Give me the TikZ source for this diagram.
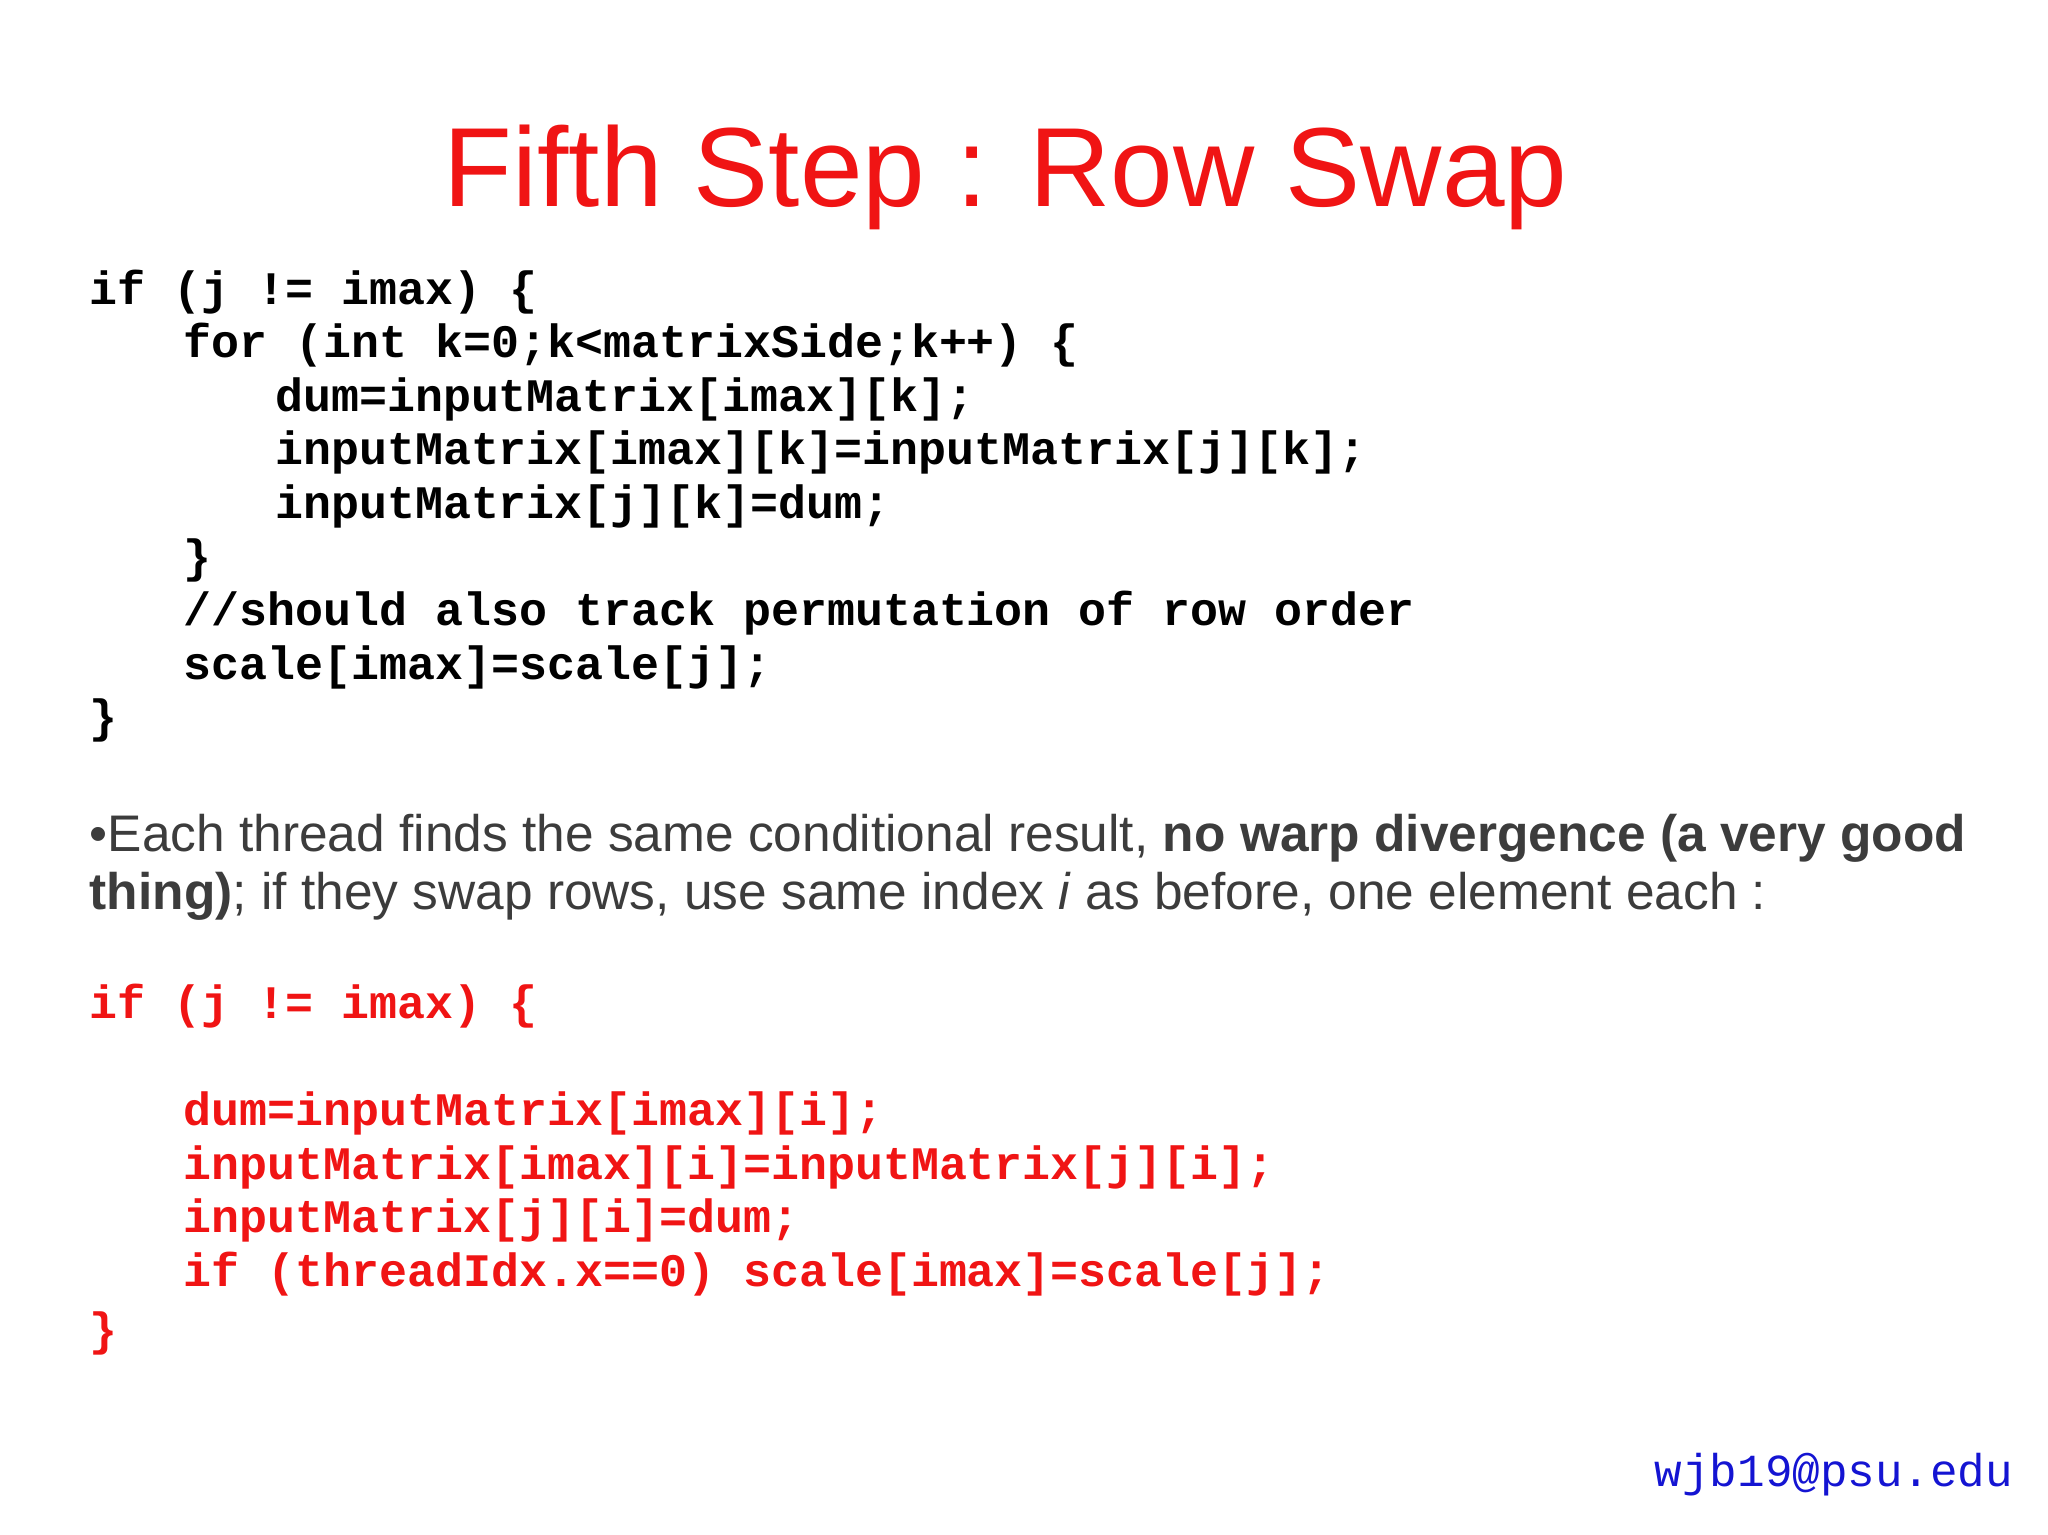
\documentclass[tikz,border=0pt]{standalone}
\usepackage{fontspec}
\setmainfont{Liberation Sans}
\setmonofont{Liberation Mono}
\definecolor{tred}{RGB}{240,20,20}
\definecolor{tgray}{RGB}{60,60,60}
\definecolor{tblue}{RGB}{20,20,210}
\begin{document}
\begin{tikzpicture}[x=0.01cm,y=-0.01cm,
  code/.style={anchor=base west,inner sep=0pt,font=\fontsize{10.15}{12}\selectfont\ttfamily\bfseries},
  body/.style={anchor=base west,inner sep=0pt,text=tgray,font=\fontsize{11.2}{13}\selectfont}]
\useasboundingbox (0,0) rectangle (1568,1175);
\node[anchor=base,inner sep=0pt,text=tred,font=\fontsize{24.5}{28}\selectfont] (title) at (770,158) {Fifth Step : Row Swap};
\node[code] (c1) at (68,233) {if (j != imax) \{};
\node[code] (c2) at (140,274) {for (int k=0;k<matrixSide;k++) \{};
\node[code] (c3) at (210,315) {dum=inputMatrix[imax][k];};
\node[code] (c4) at (210,356) {inputMatrix[imax][k]=inputMatrix[j][k];};
\node[code] (c5) at (210,397) {inputMatrix[j][k]=dum;};
\node[code] (c6) at (140,438) {\}};
\node[code] (c7) at (140,479) {//should also track permutation of row order};
\node[code] (c8) at (140,520) {scale[imax]=scale[j];};
\node[code] (c9) at (68,561) {\}};
\node[body] (b1) at (68,652) {•Each thread finds the same conditional result, \textbf{no warp divergence (a very good}};
\node[body] (b2) at (68,696) {\textbf{thing)}; if they swap rows, use same index \textit{i} as before, one element each :};
\begin{scope}[every node/.append style={text=tred}]
\node[code] (r1) at (68,780) {if (j != imax) \{};
\node[code] (r2) at (140,862) {dum=inputMatrix[imax][i];};
\node[code] (r3) at (140,903) {inputMatrix[imax][i]=inputMatrix[j][i];};
\node[code] (r4) at (140,944) {inputMatrix[j][i]=dum;};
\node[code] (r5) at (140,985) {if (threadIdx.x==0) scale[imax]=scale[j];};
\node[code] (r6) at (68,1030) {\}};
\end{scope}
\node[anchor=base east,inner sep=0pt,text=tblue,font=\fontsize{10}{12}\selectfont\ttfamily] (mail) at (1542,1138) {wjb19@psu.edu};
\end{tikzpicture}
\end{document}
